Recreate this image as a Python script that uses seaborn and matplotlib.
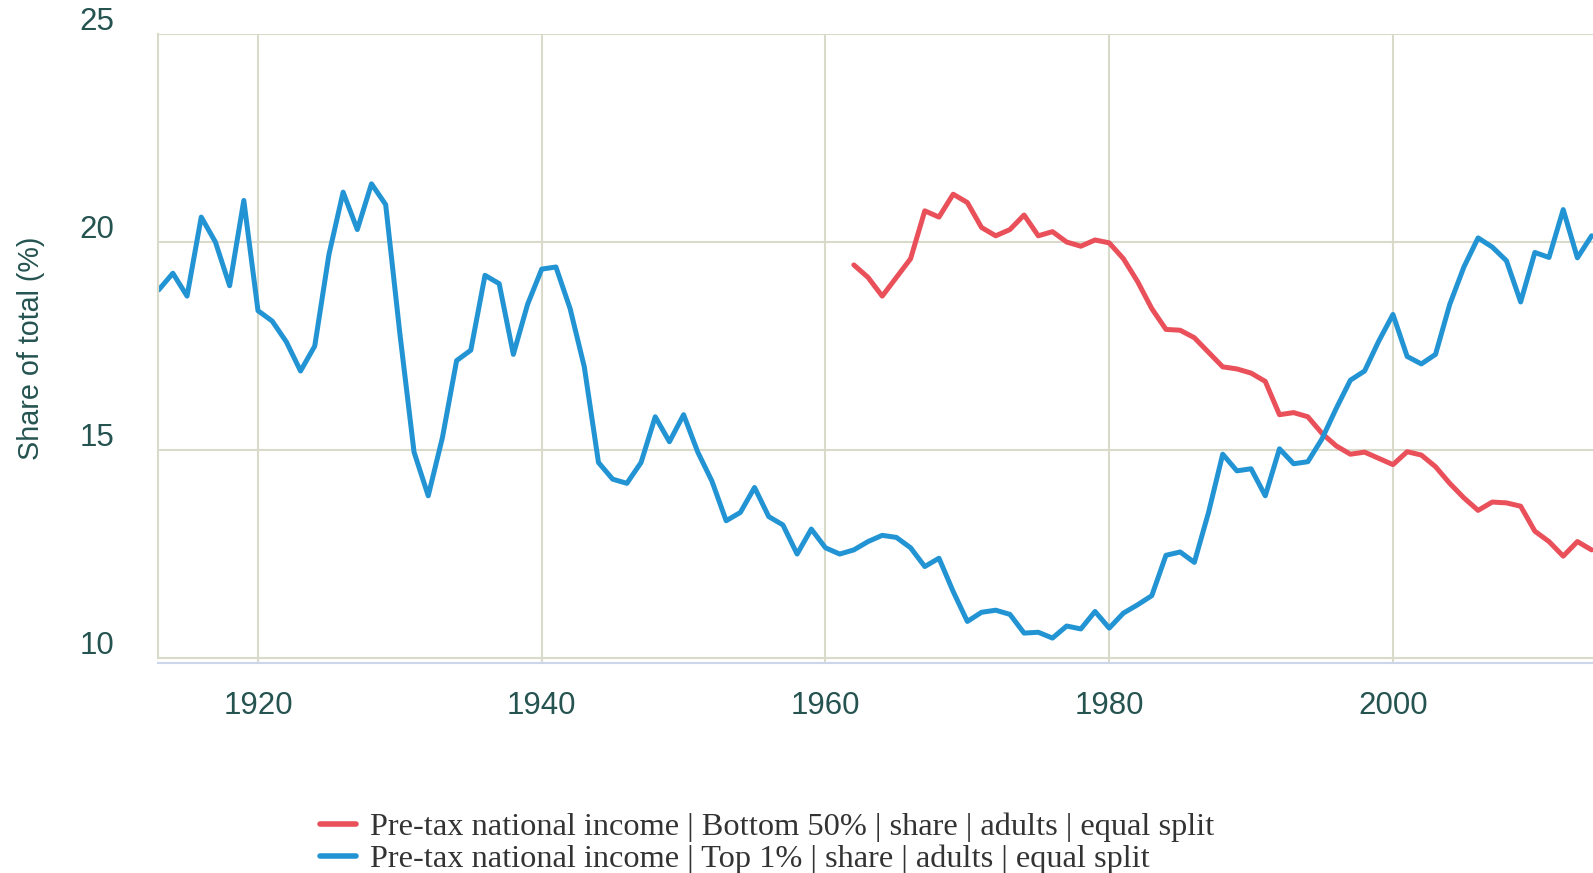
import pandas as pd
import matplotlib.pyplot as plt
import seaborn as sns
from matplotlib.transforms import ScaledTranslation

# Top 1% share, 1913-2014
top1_years = list(range(1913, 2015))
top1_share = [
    18.85, 19.25, 18.7, 20.6, 20.0, 18.95, 21.0,                      # 1913-1919
    18.35, 18.1, 17.6, 16.9, 17.5, 19.7, 21.2, 20.3, 21.4, 20.9,      # 1920s
    17.8, 14.95, 13.9, 15.3, 17.15, 17.4, 19.2, 19.0, 17.3, 18.5,     # 1930s
    19.35, 19.4, 18.4, 17.0, 14.7, 14.3, 14.2, 14.7, 15.8, 15.2,      # 1940s
    15.85, 14.95, 14.25, 13.3, 13.5, 14.1, 13.4, 13.2, 12.5, 13.1,    # 1950s
    12.65, 12.5, 12.6, 12.8, 12.95, 12.9, 12.65, 12.2, 12.4, 11.6,    # 1960s
    10.88, 11.1, 11.15, 11.05, 10.6, 10.62, 10.48, 10.77, 10.7, 11.12,  # 1970s
    10.72, 11.08, 11.28, 11.5, 12.47, 12.55, 12.3, 13.5, 14.9, 14.5,  # 1980s
    14.55, 13.9, 15.03, 14.67, 14.72, 15.27, 16.0, 16.68, 16.9, 17.62,  # 1990s
    18.26, 17.25, 17.07, 17.3, 18.5, 19.4, 20.1, 19.88, 19.55, 18.56,   # 2000s
    19.75, 19.63, 20.78, 19.62, 20.15,                                 # 2010-2014
]

# Bottom 50% share, 1962-2014
bottom50_years = list(range(1962, 2015))
bottom50_share = [
    19.45, 19.15, 18.7, 19.15, 19.6, 20.75, 20.6, 21.15,               # 1962-1969
    20.95, 20.35, 20.15, 20.3, 20.65, 20.15, 20.25, 20.0, 19.9, 20.05,  # 1970s
    19.98, 19.6, 19.05, 18.4, 17.9, 17.88, 17.7, 17.35, 17.0, 16.95,   # 1980s
    16.85, 16.65, 15.85, 15.9, 15.8, 15.4, 15.1, 14.9, 14.95, 14.8,    # 1990s
    14.65, 14.96, 14.88, 14.6, 14.2, 13.85, 13.55, 13.75, 13.73, 13.65,  # 2000s
    13.05, 12.8, 12.45, 12.8, 12.6,                                    # 2010-2014
]

label_bottom = "Pre-tax national income | Bottom 50% | share | adults | equal split"
label_top = "Pre-tax national income | Top 1% | share | adults | equal split"

df = pd.concat([
    pd.DataFrame({'year': bottom50_years, 'share': bottom50_share, 'series': label_bottom}),
    pd.DataFrame({'year': top1_years, 'share': top1_share, 'series': label_top}),
])

sns.set_style("white")
plt.rcParams['font.family'] = ['Liberation Sans', 'DejaVu Sans']

text_color = '#245350'
grid_color = '#dadacb'
axis_color = '#ccd6eb'

fig = plt.figure(figsize=(15.93, 8.73), dpi=100)
ax = fig.add_axes([0.0989, 0.2405, 0.9011, 0.7205])

sns.lineplot(data=df, x='year', y='share', hue='series',
             palette={label_bottom: '#e9505a', label_top: '#2394d3'},
             linewidth=3.6, ax=ax, legend=True,
             solid_joinstyle='round', solid_capstyle='round')

ax.set_xlim(1912.92, 2014.1)
ax.set_ylim(9.88, 25)
ax.set_yticks([10, 15, 20, 25])
ax.set_xticks([1920, 1940, 1960, 1980, 2000])
ax.grid(True, color=grid_color, linewidth=1.5)
ax.set_axisbelow(True)

for s in ['top', 'right']:
    ax.spines[s].set_visible(False)
ax.spines['left'].set_color(grid_color)
ax.spines['left'].set_linewidth(1.5)
ax.spines['left'].set_bounds(10, 25)
ax.spines['bottom'].set_color(axis_color)
ax.spines['bottom'].set_linewidth(1.5)

ax.tick_params(axis='y', length=0, pad=31, labelsize=22.5, labelcolor=text_color)
ax.tick_params(axis='x', length=18, width=1.5, color=axis_color, pad=2,
               labelsize=22.5, labelcolor=text_color)
for lab in ax.get_yticklabels():
    lab.set_transform(lab.get_transform() + ScaledTranslation(0, 0.155, fig.dpi_scale_trans))

ax.set_xlabel('')
ax.set_ylabel('')
fig.text(31 / 1593, 1 - 348 / 873, 'Share of total (%)', rotation=90,
         ha='center', va='center', fontsize=20.7, color=text_color)

handles, labels = ax.get_legend_handles_labels()
leg = ax.legend(handles, labels, loc='center left',
                bbox_to_anchor=(320 / 1593, 1 - 843.5 / 873), bbox_transform=fig.transFigure,
                frameon=False, borderpad=0, borderaxespad=0, handlelength=1.1,
                handletextpad=0.45, labelspacing=0.08,
                prop={'family': 'Liberation Serif', 'size': 23.3})
for t in leg.get_texts():
    t.set_color('#333333')
for h in leg.get_lines():
    h.set_linewidth(4)

fig.savefig('out.png', dpi=100)
